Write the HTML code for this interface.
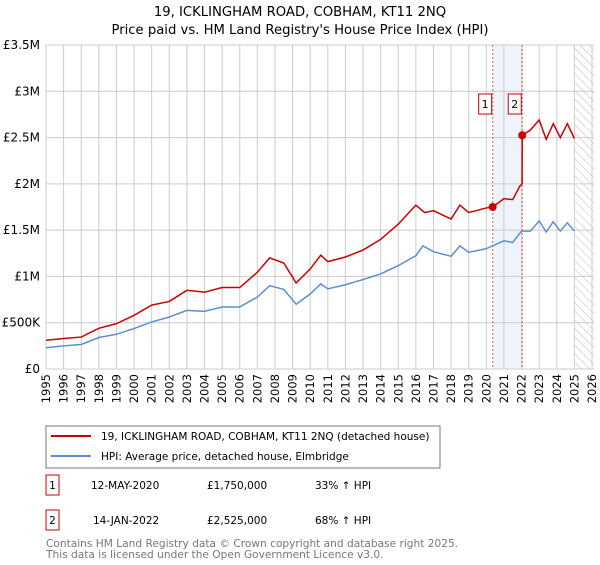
<!DOCTYPE html>
<html><head><meta charset="utf-8"><style>
body{margin:0;background:#fff;font-family:"Liberation Sans","DejaVu Sans",sans-serif;}
svg text{font-family:"DejaVu Sans","Liberation Sans",sans-serif;}
</style></head><body>
<svg id="chart" width="600" height="560" xmlns="http://www.w3.org/2000/svg">
<text x="300" y="16" text-anchor="middle" font-size="13.2">19, ICKLINGHAM ROAD, COBHAM, KT11 2NQ</text>
<text x="300" y="34" text-anchor="middle" font-size="13.2">Price paid vs. HM Land Registry's House Price Index (HPI)</text>
<defs><pattern id="hatch" width="6" height="6" patternUnits="userSpaceOnUse" patternTransform="rotate(-45)"><line x1="0" y1="0" x2="0" y2="6" stroke="#bbb" stroke-width="1"/></pattern></defs>
<g id="grid"></g><g id="marks"></g>
<rect x="46" y="426" width="394" height="42" fill="#fff" stroke="#777"/>
<line x1="51" y1="436" x2="91" y2="436" stroke="#cc0000" stroke-width="2"/>
<text x="101" y="440" font-size="10.5">19, ICKLINGHAM ROAD, COBHAM, KT11 2NQ (detached house)</text>
<line x1="51" y1="456" x2="91" y2="456" stroke="#5b8fd4" stroke-width="2"/>
<text x="101" y="460" font-size="10.5">HPI: Average price, detached house, Elmbridge</text>
<g font-size="10.5">
<rect x="46" y="475" width="13" height="20" fill="#fff" stroke="#cc0000"/><text x="52.5" y="489" text-anchor="middle">1</text>
<text x="91" y="489">12-MAY-2020</text><text x="207" y="489">£1,750,000</text><text x="315" y="489">33% ↑ HPI</text>
<rect x="46" y="510" width="13" height="20" fill="#fff" stroke="#cc0000"/><text x="52.5" y="524" text-anchor="middle">2</text>
<text x="93" y="524">14-JAN-2022</text><text x="207" y="524">£2,525,000</text><text x="315" y="524">68% ↑ HPI</text>
</g>
<text x="46" y="547" font-size="10.6" fill="#777">Contains HM Land Registry data © Crown copyright and database right 2025.</text>
<text x="46" y="558" font-size="10.6" fill="#777">This data is licensed under the Open Government Licence v3.0.</text>
</svg>
<script>
const redYears=[1995,1996,1997,1998,1999,2000,2001,2002,2003,2004,2005,2006,2007,2007.7,2008.5,2009.2,2010,2010.6,2011,2012,2013,2014,2015,2016,2016.5,2017,2018,2018.5,2019,2020,2020.36,2021,2021.5,2021.9,2022.03,2022.04,2022.5,2023,2023.4,2023.8,2024.2,2024.6,2025];
const redValues=[0.311,0.33,0.345,0.44,0.49,0.58,0.69,0.73,0.85,0.83,0.88,0.88,1.045,1.2,1.145,0.93,1.08,1.23,1.16,1.21,1.285,1.40,1.565,1.77,1.69,1.71,1.62,1.77,1.69,1.74,1.75,1.84,1.83,1.975,2.0,2.525,2.58,2.69,2.48,2.65,2.5,2.65,2.49];
const hpiYears=[1995,1996,1997,1998,1999,2000,2001,2002,2003,2004,2005,2006,2007,2007.7,2008.5,2009.2,2010,2010.6,2011,2012,2013,2014,2015,2016,2016.4,2017,2018,2018.5,2019,2020,2021,2021.5,2022,2022.5,2023,2023.4,2023.8,2024.2,2024.6,2025];
const hpiValues=[0.229,0.25,0.265,0.34,0.375,0.437,0.508,0.562,0.633,0.623,0.67,0.67,0.777,0.90,0.86,0.70,0.81,0.92,0.866,0.91,0.966,1.027,1.117,1.224,1.33,1.267,1.217,1.33,1.26,1.30,1.385,1.367,1.49,1.49,1.60,1.48,1.59,1.49,1.58,1.49];
const saleYears=[2020.36,2022.04];
const saleValues=[1.75,2.525];
const saleLabels=["1","2"];
const yTicks=[0,0.5,1,1.5,2,2.5,3,3.5];
const yTickLabels=["£0","£500K","£1M","£1.5M","£2M","£2.5M","£3M","£3.5M"];
const NS="http://www.w3.org/2000/svg";
const X0=46,X1=592,Y0=369,Y1=45;
function xs(y){return X0+(y-1995)/(2026-1995)*(X1-X0);}
function ys(v){return Y0-v/3.5*(Y0-Y1);}
function mk(p,t,a){const e=document.createElementNS(NS,t);for(const k in a)e.setAttribute(k,a[k]);p.appendChild(e);return e;}
const g=document.getElementById('grid'),m=document.getElementById('marks');
const sh=mk(g,'rect',{x:xs(saleYears[0]),y:Y1,width:xs(saleYears[1])-xs(saleYears[0]),height:Y0-Y1,fill:'#eef3fc'});


const ht=mk(g,'rect',{x:xs(2025),y:Y1,width:X1-xs(2025)+2,height:Y0-Y1,fill:'url(#hatch)'});


for(let yr=1995;yr<=2026;yr++){
 const l=mk(g,'line',{x1:xs(yr),x2:xs(yr),y1:Y1,y2:Y0,stroke:'#ccc'});
 
 
 const t=mk(g,'text',{x:0,y:0,'text-anchor':'end','font-size':11.5,transform:'translate('+(xs(yr)+4)+','+(Y0+5)+') rotate(-90)'});
 t.textContent=yr;
 
 
}
yTicks.forEach((v,i)=>{
 const l=mk(g,'line',{x1:X0,x2:X1+2,y1:ys(v),y2:ys(v),stroke:'#ccc'});
 
 
 const t=mk(g,'text',{x:X0-6,y:ys(v)+4,'text-anchor':'end','font-size':12});
 t.textContent=yTickLabels[i];
 
 
});
saleYears.forEach((s,i)=>{
 const l=mk(m,'line',{x1:xs(s),x2:xs(s),y1:Y1,y2:Y0,stroke:'#e06060','stroke-dasharray':'2,2'});
 
 
});
const hp=mk(m,'polyline',{points:hpiYears.map((y,i)=>xs(y)+','+ys(hpiValues[i])).join(' '),fill:'none',stroke:'#5b8fd4','stroke-width':1.5});


const rp=mk(m,'polyline',{points:redYears.map((y,i)=>xs(y)+','+ys(redValues[i])).join(' '),fill:'none',stroke:'#cc0000','stroke-width':1.5});


saleYears.forEach((s,i)=>{
 const c=mk(m,'circle',{cx:xs(s),cy:ys(saleValues[i]),r:4,fill:'#cc0000'});
 
 
 const b=mk(m,'rect',{x:xs(s)-14,y:94,width:13,height:20,fill:'#fff',stroke:'#cc0000'});
 
 
 const t=mk(m,'text',{x:xs(s)-7.5,y:108,'text-anchor':'middle','font-size':11});
 t.textContent=saleLabels[i];
 
 
});
</script>
</body></html>
